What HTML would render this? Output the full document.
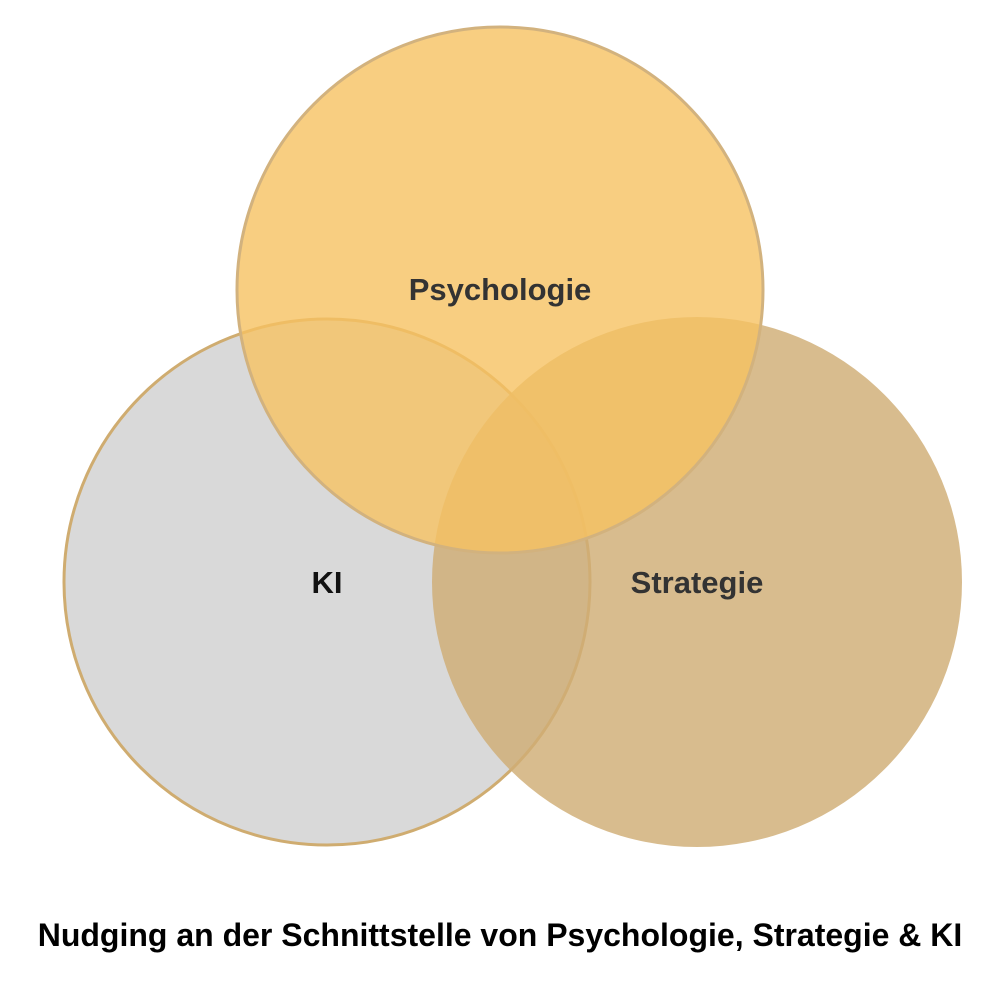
<!DOCTYPE html>
<html><head><meta charset="utf-8"><style>
html,body{margin:0;padding:0;background:#fff;}
svg{display:block;}
text{font-family:"Liberation Sans",Arial,sans-serif;font-weight:bold;}
</style></head><body>
<svg width="1000" height="1000" viewBox="0 0 1000 1000">
<circle cx="327" cy="582" r="263" fill="#d9d9d9" stroke="#cfac70" stroke-width="3"/>
<circle cx="697" cy="582" r="265" fill="rgb(207,173,117)" fill-opacity="0.82"/>
<circle cx="500" cy="290" r="263" fill="rgb(246,194,98)" fill-opacity="0.8" stroke="#d2b27e" stroke-width="3"/>
<text x="500" y="300" font-size="31" text-anchor="middle" fill="#333">Psychologie</text>
<text x="327" y="593" font-size="31" text-anchor="middle" fill="#111">KI</text>
<text x="697" y="593" font-size="31" text-anchor="middle" fill="#333">Strategie</text>
<text x="500" y="946" font-size="32" text-anchor="middle" fill="#000">Nudging an der Schnittstelle von Psychologie, Strategie &amp; KI</text>
</svg>
</body></html>
